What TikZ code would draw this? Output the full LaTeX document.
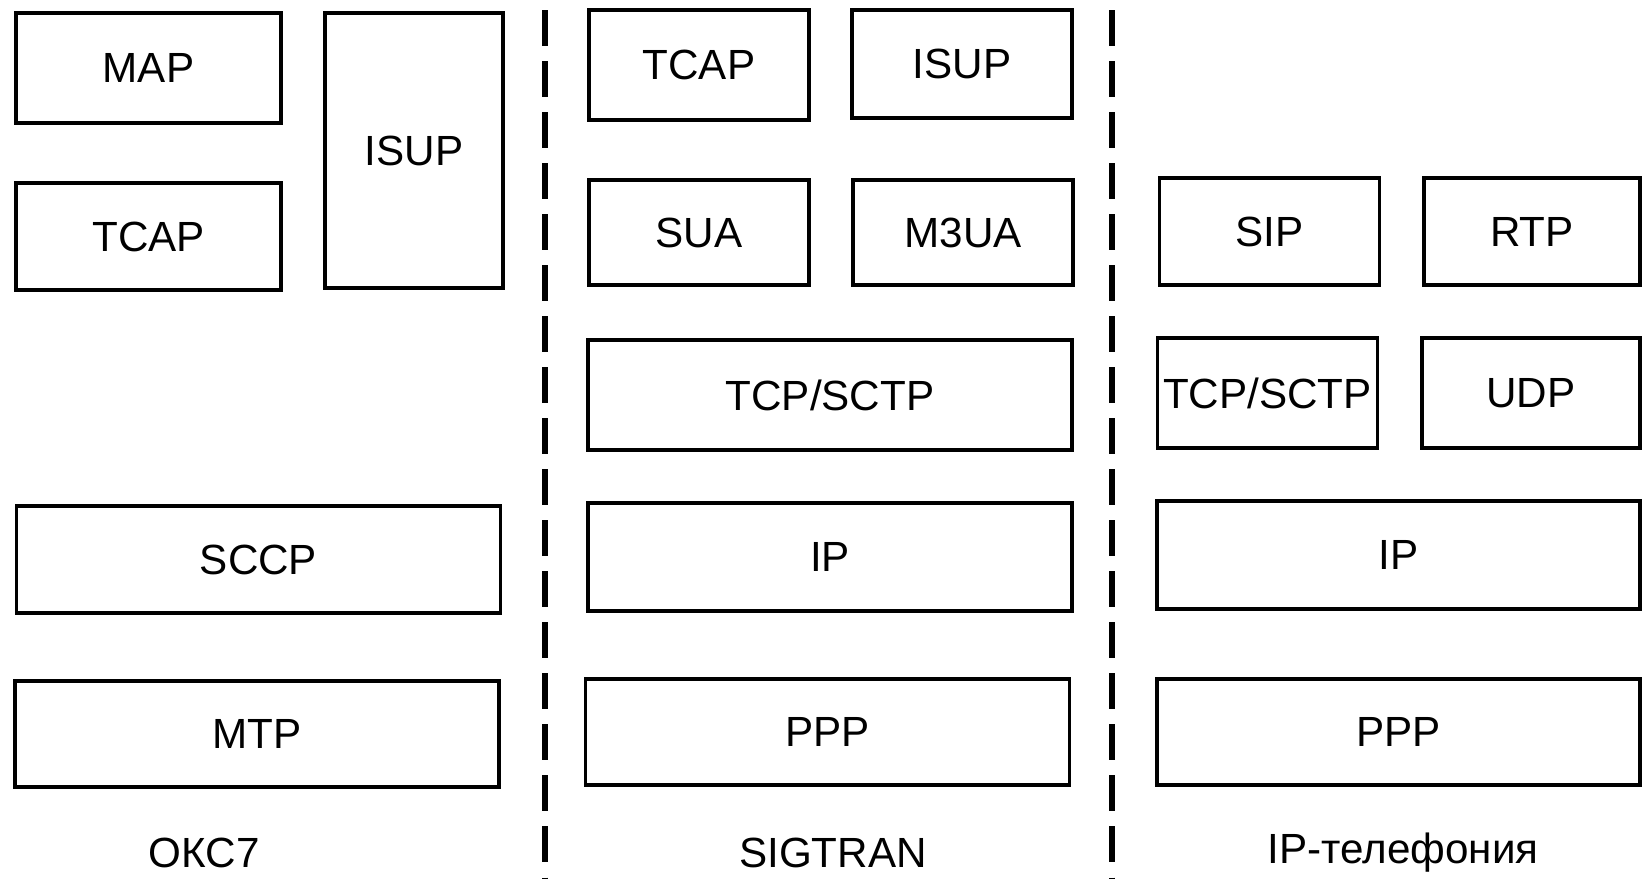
\documentclass[tikz,border=0pt]{standalone}
\usepackage{fontspec}
\setmainfont{Liberation Sans}
\begin{document}
\begin{tikzpicture}[
    x=0.01cm, y=-0.01cm,
    layer/.style={
        draw=black, rectangle, line width=1pt,
        inner sep=0pt, minimum height=1.07cm,
        font=\fontsize{12}{14}\selectfont
    },
    halfA/.style={layer, minimum width=2.65cm},
    halfB/.style={layer, minimum width=2.20cm},
    wide/.style={layer, minimum width=4.84cm},
    tall/.style={layer, minimum width=1.78cm, minimum height=2.75cm},
    divider/.style={line width=1.6pt, dash pattern=on 0.36cm off 0.15cm},
    caption/.style={font=\fontsize{12}{14}\selectfont}
]
\useasboundingbox (0,0) rectangle (1642,878);

% ===== ОКС7 =====
\node[halfA, minimum height=1.10cm] (map)   at (148.5,68)  {MAP};
\node[halfA]                        (tcapA) at (148.5,236.5) {TCAP};
\node[tall]                         (isupA) at (414,150.5) {ISUP};
\node[wide]                         (sccp)  at (258.5,559.5) {SCCP};
\node[wide, minimum height=1.06cm]  (mtp)   at (257,734)   {MTP};
\node[caption] (okc) at (204,853) {ОКС7};

\draw[divider] (545,10) -- (545,878);

% ===== SIGTRAN =====
\node[halfB, minimum height=1.10cm] (tcapB) at (699,65)    {TCAP};
\node[halfB, minimum height=1.08cm] (isupB) at (962,64)    {ISUP};
\node[halfB, minimum height=1.05cm] (sua)   at (699,232.5) {SUA};
\node[halfB, minimum height=1.05cm] (mua)   at (963,232.5) {M3UA};
\node[wide, minimum height=1.10cm]  (tcpB)  at (830,395)   {TCP/SCTP};
\node[wide, minimum height=1.08cm]  (ipB)   at (830,557)   {IP};
\node[wide, minimum height=1.06cm]  (pppB)  at (827.5,732) {PPP};
\node[caption] (sigtran) at (833,853) {SIGTRAN};

\draw[divider] (1112,10) -- (1112,878);

% ===== IP-телефония =====
\node[halfB]                        (sip)   at (1269.5,231.5) {SIP};
\node[halfB, minimum width=2.16cm]  (rtp)   at (1532,231.5)   {RTP};
\node[halfB, minimum height=1.10cm] (tcpC)  at (1267.5,393)   {TCP/SCTP};
\node[halfB, minimum width=2.18cm, minimum height=1.10cm] (udp) at (1531,393) {UDP};
\node[wide, minimum width=4.83cm, minimum height=1.08cm] (ipC)  at (1398.5,555) {IP};
\node[wide, minimum width=4.83cm, minimum height=1.06cm] (pppC) at (1398.5,732) {PPP};
\node[caption] (iptel) at (1403,853) {IP-телефония};

\end{tikzpicture}
\end{document}
